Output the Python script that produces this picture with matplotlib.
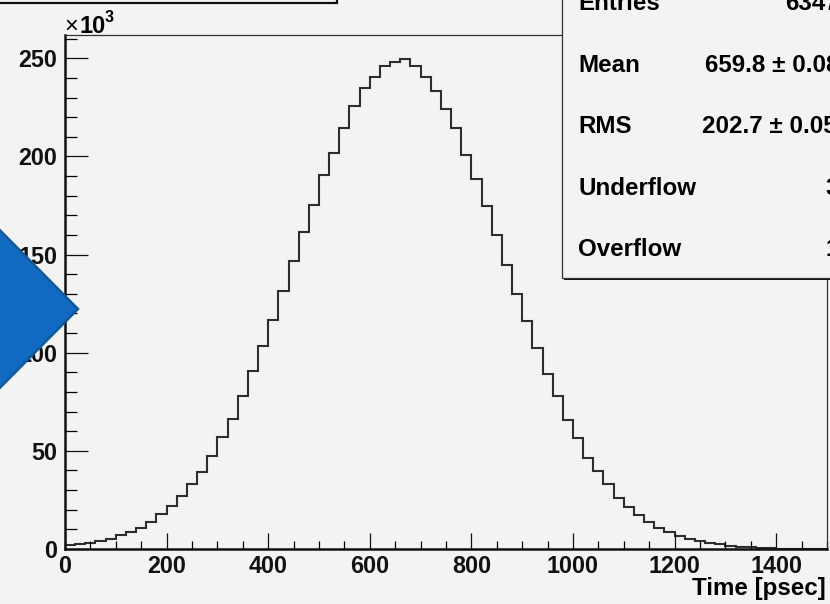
import numpy as np
import matplotlib
matplotlib.use("Agg")
import matplotlib.pyplot as plt
from matplotlib.patches import Rectangle, Polygon
from matplotlib.ticker import MultipleLocator

# Time histogram: 75 bins of 20 psec from 0 to 1500, counts in thousands
bin_edges = np.arange(0, 1501, 20)
counts_k = [
    2.1, 2.3, 3.2, 3.9, 5.2, 6.9, 8.6, 10.8, 13.7, 17.8,
    22.0, 26.9, 33.0, 39.2, 47.5, 57.2, 66.3, 78.0, 90.5, 103.6,
    116.8, 131.5, 146.7, 161.4, 175.2, 190.5, 201.6, 214.6, 225.7, 234.7,
    240.4, 246.0, 248.0, 249.4, 246.0, 240.4, 233.5, 224.4, 214.6, 200.9,
    188.5, 174.6, 159.9, 144.7, 129.9, 116.2, 102.4, 89.3, 78.0, 65.8,
    56.7, 46.5, 39.5, 33.0, 26.0, 21.3, 17.1, 13.7, 10.8, 8.6,
    6.8, 5.2, 3.9, 3.0, 2.4, 1.7, 1.2, 1.0, 0.5, 0.3,
    0.15, 0.1, 0.05, 0.02, 0.01,
]
xticks = [0, 200, 400, 600, 800, 1000, 1200, 1400]
yticks = [0, 50, 100, 150, 200, 250]

stat_labels = ["Entries", "Mean", "RMS", "Underflow", "Overflow"]
stat_values = ["6347238", "659.8 \u00b1 0.08046", "202.7 \u00b1 0.05689", "3316", "1207"]

W, H = 830, 604
BG = "#f3f3f3"
FONT = "Liberation Sans"
FS = 17.4

fig = plt.figure(figsize=(W / 100, H / 100), dpi=100, facecolor=BG)


def fx(px):
    return px / W


def fy(py):
    return 1 - py / H


ax_l, ax_r, ax_t, ax_b = 65, 827, 35, 549
ax = fig.add_axes([fx(ax_l), fy(ax_b), (ax_r - ax_l) / W, (ax_b - ax_t) / H])
ax.set_facecolor(BG)

ax.stairs(counts_k, bin_edges, color="#2e2e2e", lw=1.5)

ax.set_xlim(0, 1500)
ax.set_ylim(0, 1.05 * max(counts_k))

for side in ("left", "bottom"):
    ax.spines[side].set_linewidth(1.8)
    ax.spines[side].set_color("#111111")
for side in ("top", "right"):
    ax.spines[side].set_linewidth(0.9)
    ax.spines[side].set_color("#333333")

ax.set_xticks(xticks)
ax.set_yticks(yticks)
ax.xaxis.set_minor_locator(MultipleLocator(50))
ax.yaxis.set_minor_locator(MultipleLocator(10))
ax.tick_params(axis="x", which="major", direction="in", length=11.5, width=0.9,
               pad=4, labelsize=16.8, colors="#111111")
ax.tick_params(axis="x", which="minor", direction="in", length=5.8, width=0.9)
ax.tick_params(axis="y", which="major", direction="in", length=16.3, width=0.9,
               pad=5.5, labelsize=16.8, colors="#111111")
ax.tick_params(axis="y", which="minor", direction="in", length=8.6, width=0.9)
for lab in ax.get_xticklabels() + ax.get_yticklabels():
    lab.set_fontfamily(FONT)
    lab.set_fontweight("bold")

# exponent marker above the y axis
fig.text(fx(64), fy(33), "\u00d7", fontsize=17, family=FONT, va="baseline", ha="left")
fig.text(fx(79), fy(33), "10", fontsize=17, family=FONT, weight="bold", va="baseline", ha="left")
fig.text(fx(105), fy(22), "3", fontsize=11.5, family=FONT, weight="bold", va="baseline", ha="left")

# axis title
fig.text(fx(826), fy(595), "Time [psec]", fontsize=FS, family=FONT, weight="bold",
         va="baseline", ha="right")

# title box at the top-left corner
fig.add_artist(Rectangle((fx(-20), fy(3)), fx(357), 40 / H, transform=fig.transFigure,
                         facecolor=BG, edgecolor="#111111", lw=1.6, zorder=3))

# statistics box with shadow
box_l, box_b = 562, 278
fig.add_artist(Rectangle((fx(box_l + 2), fy(box_b + 2)), fx(400), (box_b + 30) / H,
                         transform=fig.transFigure, facecolor="#111111",
                         edgecolor="none", zorder=3))
fig.add_artist(Rectangle((fx(box_l), fy(box_b)), fx(400), (box_b + 30) / H,
                         transform=fig.transFigure, facecolor=BG,
                         edgecolor="#333333", lw=0.9, zorder=3.1))
baselines = [10, 71.5, 133, 195, 256]
value_x = [785, 705, 702, 825, 825]
for lab, val, yb, vx in zip(stat_labels, stat_values, baselines, value_x):
    fig.text(fx(578), fy(yb), lab, fontsize=FS, family=FONT, weight="bold",
             va="baseline", ha="left", zorder=4)
    fig.text(fx(vx), fy(yb), val, fontsize=FS, family=FONT, weight="bold",
             va="baseline", ha="left", zorder=4)

# blue arrow pointing at the y axis
arrow_pts = [(-40, 190), (78, 309), (-40, 428)]
fig.add_artist(Polygon([(fx(px), fy(py)) for px, py in arrow_pts], closed=True,
                       transform=fig.transFigure, facecolor="#1169c2",
                       edgecolor="#10599a", lw=1.8, zorder=5))

fig.savefig("out.png", dpi=100, facecolor=BG)
